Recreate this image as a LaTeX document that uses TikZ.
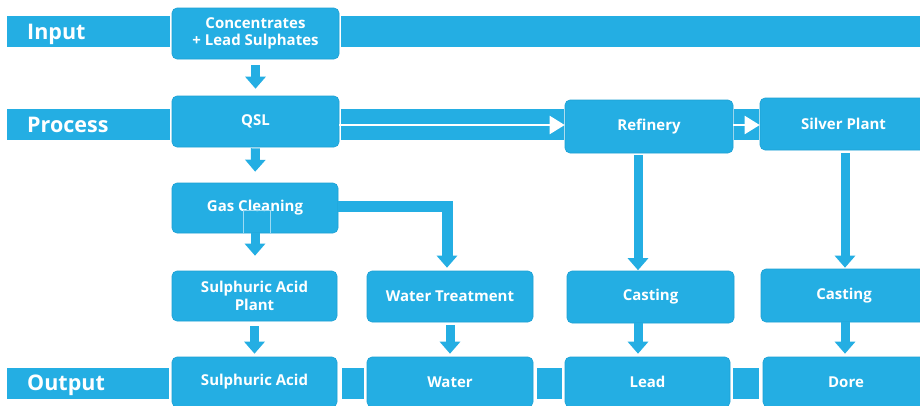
\documentclass[tikz,border=0pt]{standalone}
\usepackage{fontspec}
\setmainfont{Open Sans}
\usetikzlibrary{arrows.meta}
\definecolor{bb}{RGB}{36,174,227}
\definecolor{bbd}{RGB}{28,160,212}
\begin{document}
\begin{tikzpicture}[x=1pt,y=-1pt,
  box/.style={rectangle, rounded corners=5pt, fill=bb, draw=bbd, line width=0.6pt, text=white,
    font=\fontsize{15}{17.5}\selectfont\bfseries, align=center, inner sep=0pt},
  band/.style={fill=bb},
  rowlab/.style={text=white, font=\fontsize{21.5}{24}\selectfont\bfseries, anchor=base west, inner sep=0pt},
  arr/.style={draw=bb, line width=9pt, -{Triangle[length=12pt,width=20pt]}},
  warr/.style={draw=white, line width=2pt, -{Triangle[length=15pt,width=18pt]}}
]
\useasboundingbox (0,0) rectangle (920,405);
\fill[white] (0,0) rectangle (920,405);
% bands
\fill[band] (7,16) rectangle (170,47);
\fill[band] (341,16) rectangle (920,47);
\fill[band] (7,109) rectangle (170,140);
\fill[band] (341,109) rectangle (564,140);
\fill[band] (734,109) rectangle (759,140);
\fill[band] (7,368) rectangle (169,399);
\fill[band] (342,368) rectangle (364,399);
\fill[band] (537,368) rectangle (562,399);
\fill[band] (733,368) rectangle (759,399);
% row labels
\node[rowlab] (lin) at (27,39) {Input};
\node[rowlab] (lproc) at (27,132) {Process};
\node[rowlab] (lout) at (27,390) {Output};
% boxes
\node[box, minimum width=167pt, minimum height=51pt] (conc) at (255.5,33.5) {Concentrates\\+ Lead Sulphates};
\node[box, minimum width=167pt, minimum height=51pt] (qsl) at (255.5,121.5) {QSL};
\node[box, minimum width=168pt, minimum height=53pt] (ref) at (649,126.5) {Refinery};
\node[box, minimum width=167pt, minimum height=52pt] (silver) at (843.5,124) {Silver Plant};
\node[box, minimum width=166pt, minimum height=50pt] (gas) at (255,208) {Gas Cleaning};
\node[box, minimum width=165pt, minimum height=50pt] (sap) at (254.5,296) {Sulphuric Acid\\Plant};
\node[box, minimum width=166pt, minimum height=51pt] (wt) at (450,296.5) {Water Treatment};
\node[box, minimum width=167pt, minimum height=52pt] (cast1) at (650.5,297) {Casting};
\node[box, minimum width=166pt, minimum height=53pt] (cast2) at (844,295.5) {Casting};
\node[box, minimum width=165pt, minimum height=50pt] (sa) at (254.5,382) {Sulphuric Acid};
\node[box, minimum width=166pt, minimum height=50pt] (water) at (450,382) {Water};
\node[box, minimum width=165pt, minimum height=50pt] (lead) at (647.5,382) {Lead};
\node[box, minimum width=166pt, minimum height=50pt] (dore) at (846,382) {Dore};
% faint outline artifact inside Gas Cleaning
\draw[white!55!bb, line width=0.6pt] (243,233) -- (243,210) -- (270,210) -- (270,233);
% white arrows on the process band
\draw[warr] ([yshift=-3.5pt]qsl.east) -- ([yshift=-3.5pt]qsl.east -| ref.west);
\draw[warr] ([yshift=1.5pt]ref.east) -- ([yshift=1.5pt]ref.east -| silver.west);
% blue arrows
\draw[arr, shorten <=6pt, shorten >=7pt] (conc.south) -- (qsl.north);
\draw[arr, shorten <=1pt, shorten >=11pt] (qsl.south) -- (gas.north);
\draw[arr, shorten <=0pt, shorten >=15pt] (gas.south) -- ([xshift=0.5pt]sap.north);
\draw[arr, shorten <=5pt, shorten >=3pt] (sap.south) -- (sa.north);
\draw[arr, shorten <=3pt, shorten >=3pt] (wt.south) -- (water.north);
\draw[arr, line width=11pt, shorten >=3pt] ([yshift=2pt]gas.east) -| ([xshift=-3pt]wt.north);
\draw[arr, shorten <=2pt, shorten >=0.5pt] ([xshift=-11pt]ref.south) -- ([xshift=-11pt]ref.south |- cast1.north);
\draw[arr, shorten <=3pt, shorten >=1pt] ([xshift=1.5pt]silver.south) -- ([xshift=1.5pt]silver.south |- cast2.north);
\draw[arr, shorten <=0pt, shorten >=3pt] ([xshift=-12.5pt]cast1.south) -- ([xshift=-12.5pt]cast1.south |- lead.north);
\draw[arr, shorten <=0pt, shorten >=3pt] ([xshift=1pt]cast2.south) -- ([xshift=1pt]cast2.south |- dore.north);
\end{tikzpicture}
\end{document}
